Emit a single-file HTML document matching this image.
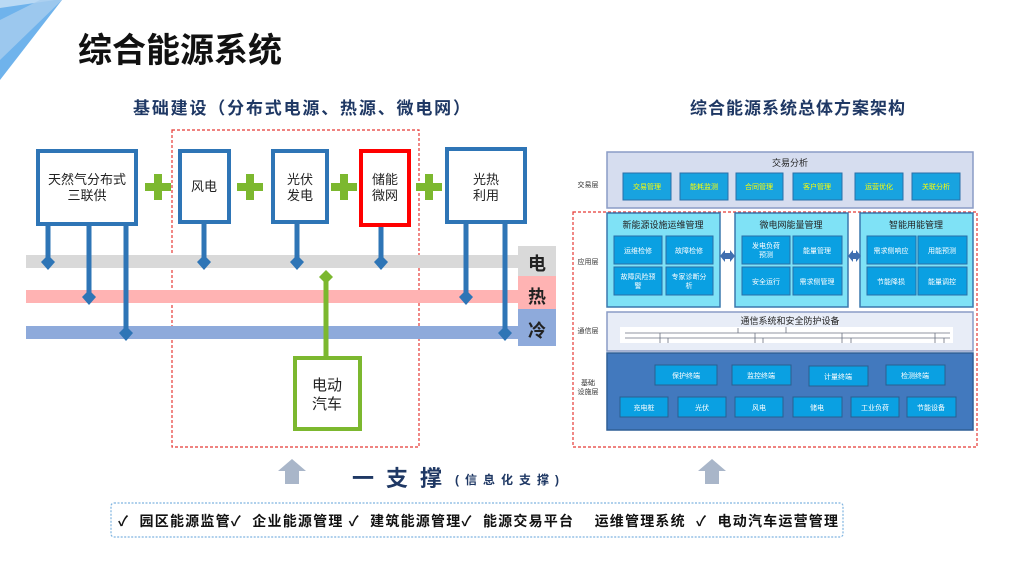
<!DOCTYPE html>
<html><head><meta charset="utf-8">
<style>
html,body{margin:0;padding:0;background:#fff;}
svg{display:block;font-family:"Liberation Sans","Noto Sans CJK SC",sans-serif;}
</style></head><body>
<svg width="1024" height="576" viewBox="0 0 1024 576" xmlns="http://www.w3.org/2000/svg">
<polygon points="0,0 62,0 0,80" fill="#6fb3ec"/>
<polygon points="0,0 55,0 0,8" fill="#b9d9f4"/>
<polygon points="0,20 40,0 62,0 0,60" fill="#a7cdef" opacity="0.8"/>
<text x="78" y="62" font-size="34" font-weight="bold" fill="#111" textLength="204">综合能源系统</text>
<text x="133" y="114" font-size="17" font-weight="bold" fill="#1f3864" textLength="337">基础建设（分布式电源、热源、微电网）</text>
<text x="690" y="114" font-size="17" font-weight="bold" fill="#1f3864" textLength="215">综合能源系统总体方案架构</text>

<rect x="172" y="130" width="247" height="317" fill="none" stroke="#e53935" stroke-width="1.2" stroke-dasharray="3,2"/>

<rect x="26" y="255" width="492" height="13" fill="#d9d9d9"/>
<rect x="26" y="290" width="492" height="13" fill="#ffb3b3"/>
<rect x="26" y="326" width="492" height="13" fill="#8eaadb"/>
<rect x="518" y="246" width="38" height="30" fill="#d9d9d9"/>
<rect x="518" y="276" width="38" height="33" fill="#ffb3b3"/>
<rect x="518" y="309" width="38" height="37" fill="#8eaadb"/>
<text x="537" y="270" font-size="18" font-weight="bold" fill="#222" text-anchor="middle">电</text>
<text x="537" y="303" font-size="18" font-weight="bold" fill="#222" text-anchor="middle">热</text>
<text x="537" y="337" font-size="18" font-weight="bold" fill="#222" text-anchor="middle">冷</text>

<g stroke="#2e75b6" stroke-width="5" fill="none">
<line x1="48" y1="225" x2="48" y2="262"/>
<line x1="89" y1="225" x2="89" y2="297"/>
<line x1="126" y1="225" x2="126" y2="333"/>
<line x1="204" y1="222" x2="204" y2="262"/>
<line x1="297" y1="222" x2="297" y2="262"/>
<line x1="381" y1="225" x2="381" y2="262"/>
<line x1="466" y1="222" x2="466" y2="297"/>
<line x1="505" y1="222" x2="505" y2="333"/>
</g>
<g fill="#2e75b6">
<polygon points="48,255 55,262 48,270 41,262"/>
<polygon points="89,290 96,297 89,305 82,297"/>
<polygon points="126,326 133,333 126,341 119,333"/>
<polygon points="204,255 211,262 204,270 197,262"/>
<polygon points="297,255 304,262 297,270 290,262"/>
<polygon points="381,255 388,262 381,270 374,262"/>
<polygon points="466,290 473,297 466,305 459,297"/>
<polygon points="505,326 512,333 505,341 498,333"/>
</g>
<line x1="326" y1="278" x2="326" y2="357" stroke="#7cb82f" stroke-width="5"/>
<polygon points="326,270 333,277 326,284 319,277" fill="#7cb82f"/>

<g fill="#fff" stroke="#2e75b6" stroke-width="4">
<rect x="38" y="151" width="98" height="73"/>
<rect x="180" y="151" width="49" height="71"/>
<rect x="273" y="151" width="54" height="71"/>
<rect x="447" y="149" width="78" height="73"/>
</g>
<rect x="361" y="151" width="48" height="74" fill="#fff" stroke="#ff0000" stroke-width="4"/>
<rect x="295" y="358" width="65" height="71" fill="#fff" stroke="#7cb82f" stroke-width="4"/>
<g font-size="13" fill="#222" text-anchor="middle">
<text x="87" y="184">天然气分布式</text><text x="87" y="200">三联供</text>
<text x="204" y="191">风电</text>
<text x="300" y="184">光伏</text><text x="300" y="200">发电</text>
<text x="385" y="184">储能</text><text x="385" y="200">微网</text>
<text x="486" y="184">光热</text><text x="486" y="200">利用</text>
<text x="327" y="390" font-size="15">电动</text><text x="327" y="409" font-size="15">汽车</text>
</g>
<g fill="#7cb82f">
<rect x="145" y="183" width="26" height="8"/><rect x="154" y="174" width="8" height="26"/>
<rect x="237" y="183" width="26" height="8"/><rect x="246" y="174" width="8" height="26"/>
<rect x="331" y="183" width="26" height="8"/><rect x="340" y="174" width="8" height="26"/>
<rect x="416" y="183" width="26" height="8"/><rect x="425" y="174" width="8" height="26"/>
</g>

<rect x="573" y="212" width="404" height="235" fill="none" stroke="#e53935" stroke-width="1.2" stroke-dasharray="3,2"/>
<g font-size="7" fill="#333" text-anchor="middle">
<text x="588" y="187">交易层</text>
<text x="588" y="264">应用层</text>
<text x="588" y="333">通信层</text>
<text x="588" y="385">基础</text><text x="588" y="394">设施层</text>
</g>
<rect x="607" y="152" width="366" height="56" fill="#d6ddef" stroke="#8a9cc6" stroke-width="1.5"/>
<text x="790" y="166" font-size="9" fill="#222" text-anchor="middle">交易分析</text>
<g fill="#18a3e0" stroke="#2a6fa8" stroke-width="1">
<rect x="623" y="173" width="48" height="27"/><rect x="680" y="173" width="48" height="27"/>
<rect x="736" y="173" width="47" height="27"/><rect x="793" y="173" width="49" height="27"/>
<rect x="855" y="173" width="48" height="27"/><rect x="912" y="173" width="48" height="27"/>
</g>
<g font-size="7" fill="#ffff00" text-anchor="middle">
<text x="647" y="189">交易管理</text><text x="704" y="189">能耗监测</text>
<text x="759" y="189">合同管理</text><text x="817" y="189">客户管理</text>
<text x="879" y="189">运营优化</text><text x="936" y="189">关联分析</text>
</g>
<g fill="#7fe2f6" stroke="#3a78ae" stroke-width="1.5">
<rect x="607" y="213" width="113" height="94"/><rect x="735" y="213" width="113" height="94"/><rect x="860" y="213" width="113" height="94"/>
</g>
<g font-size="9" fill="#222" text-anchor="middle">
<text x="663" y="228">新能源设施运维管理</text>
<text x="791" y="228">微电网能量管理</text>
<text x="916" y="228">智能用能管理</text>
</g>
<g fill="#0aa0e2" stroke="#2a6fa8" stroke-width="1">
<rect x="614" y="236" width="48" height="28"/><rect x="666" y="236" width="47" height="28"/>
<rect x="614" y="267" width="48" height="28"/><rect x="666" y="267" width="47" height="28"/>
<rect x="742" y="236" width="48" height="28"/><rect x="793" y="236" width="49" height="28"/>
<rect x="742" y="267" width="48" height="28"/><rect x="793" y="267" width="49" height="28"/>
<rect x="867" y="236" width="49" height="28"/><rect x="918" y="236" width="49" height="28"/>
<rect x="867" y="267" width="49" height="28"/><rect x="918" y="267" width="49" height="28"/>
</g>
<g font-size="7" fill="#fff" text-anchor="middle">
<text x="638" y="253">运维检修</text><text x="689" y="253">故障检修</text>
<text x="638" y="279">故障风险预</text><text x="638" y="288">警</text>
<text x="689" y="279">专家诊断分</text><text x="689" y="288">析</text>
<text x="766" y="248">发电负荷</text><text x="766" y="257">预测</text>
<text x="817" y="253">能量管理</text>
<text x="766" y="284">安全运行</text><text x="817" y="284">需求侧管理</text>
<text x="891" y="253">需求侧响应</text><text x="942" y="253">用能预测</text>
<text x="891" y="284">节能降损</text><text x="942" y="284">能量调控</text>
</g>
<g fill="#3f6fb0">
<polygon points="720,256 725,250 725,253 730,253 730,250 735,256 730,262 730,259 725,259 725,262"/>
<polygon points="848,256 853,250 853,253 856,253 856,250 861,256 856,262 856,259 853,259 853,262"/>
</g>
<rect x="607" y="312" width="366" height="39" fill="#e8edf7" stroke="#8a9cc6" stroke-width="1.5"/>
<text x="790" y="324" font-size="9" fill="#222" text-anchor="middle">通信系统和安全防护设备</text>
<rect x="620" y="327" width="333" height="16" fill="#fff"/>
<g stroke="#6b7280" stroke-width="0.8">
<line x1="625" y1="333" x2="950" y2="333"/><line x1="625" y1="338" x2="950" y2="338"/>
<line x1="738" y1="328" x2="738" y2="333"/><line x1="786" y1="327" x2="786" y2="333"/>
<line x1="660" y1="333" x2="660" y2="343"/><line x1="668" y1="338" x2="668" y2="343"/>
<line x1="755" y1="333" x2="755" y2="343"/><line x1="763" y1="338" x2="763" y2="343"/>
<line x1="842" y1="333" x2="842" y2="343"/><line x1="851" y1="338" x2="851" y2="343"/>
<line x1="935" y1="333" x2="935" y2="343"/><line x1="944" y1="338" x2="944" y2="343"/>
</g>
<rect x="607" y="353" width="366" height="77" fill="#4279be" stroke="#2f5f95" stroke-width="1.5"/>
<g fill="#0aa0e2" stroke="#2a5f90" stroke-width="1">
<rect x="655" y="365" width="62" height="20"/><rect x="732" y="365" width="59" height="20"/>
<rect x="809" y="366" width="59" height="20"/><rect x="886" y="365" width="59" height="20"/>
<rect x="620" y="397" width="48" height="20"/><rect x="678" y="397" width="48" height="20"/>
<rect x="735" y="397" width="48" height="20"/><rect x="793" y="397" width="49" height="20"/>
<rect x="851" y="397" width="48" height="20"/><rect x="907" y="397" width="49" height="20"/>
</g>
<g font-size="7" fill="#fff" text-anchor="middle">
<text x="686" y="378">保护终端</text><text x="761" y="378">监控终端</text>
<text x="838" y="379">计量终端</text><text x="915" y="378">检测终端</text>
<text x="644" y="410">充电桩</text><text x="702" y="410">光伏</text>
<text x="759" y="410">风电</text><text x="817" y="410">储电</text>
<text x="875" y="410">工业负荷</text><text x="931" y="410">节能设备</text>
</g>

<g fill="#a9b6c9">
<polygon points="292,459 306,471 299,471 299,484 285,484 285,471 278,471"/>
<polygon points="712,459 726,471 719,471 719,484 705,484 705,471 698,471"/>
</g>
<text x="352" y="486" font-size="22" font-weight="bold" fill="#1f3864" letter-spacing="12">一支撑</text>
<text x="455" y="484" font-size="12" font-weight="bold" fill="#1f3864" letter-spacing="6">(信息化支撑)</text>
<rect x="111" y="503" width="732" height="34" rx="3" fill="none" stroke="#7fb4e0" stroke-width="1.2" stroke-dasharray="2,1.5"/>
<text x="118" y="526" font-size="14" font-weight="bold" fill="#111" xml:space="preserve" textLength="720" lengthAdjust="spacing">✓  园区能源监管✓  企业能源管理 ✓  建筑能源管理✓  能源交易平台    运维管理系统  ✓  电动汽车运营管理</text>
</svg>
</body></html>
